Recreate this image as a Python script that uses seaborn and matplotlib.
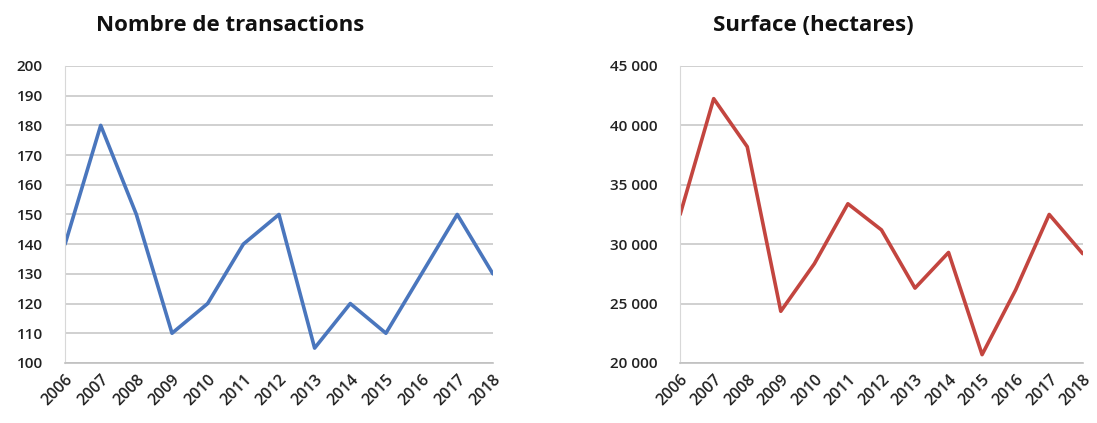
import matplotlib
matplotlib.use('Agg')
import matplotlib.pyplot as plt
import matplotlib.ticker as mticker
import seaborn as sns
import pandas as pd

# values
years = [2006, 2007, 2008, 2009, 2010, 2011, 2012, 2013, 2014, 2015, 2016, 2017, 2018]
transactions = [140, 180, 150, 110, 120, 140, 150, 105, 120, 110, 130, 150, 130]
surface = [32500, 42250, 38200, 24350, 28350, 33400, 31200, 26300, 29300, 20700, 26150, 32500, 29200]

df = pd.DataFrame({'annee': years, 'transactions': transactions, 'surface': surface})

sns.set_style('white')
plt.rcParams['font.family'] = ['Open Sans', 'DejaVu Sans']

fig = plt.figure(figsize=(10.97, 4.23), dpi=100)
ax1 = fig.add_axes([0.0593, 0.142, 0.390, 0.702])
ax2 = fig.add_axes([0.620, 0.142, 0.367, 0.702])


def style_axis(ax, ylim, ystep):
    ax.set_xlim(years[0], years[-1])
    ax.set_ylim(*ylim)
    ax.yaxis.set_major_locator(mticker.MultipleLocator(ystep))
    ax.set_xticks(years)
    ax.set_xticklabels([str(y) for y in years], rotation=45, ha='right',
                       rotation_mode='anchor', fontsize=11.5, fontweight='semibold',
                       color='#222222')
    ax.tick_params(axis='y', labelsize=11, labelcolor='#222222', length=0, pad=16)
    ax.tick_params(axis='x', length=4, width=1, color='#bbbbbb', direction='out', pad=2)
    ax.grid(axis='y', color='#c8c8c8', linewidth=1.2)
    ax.set_axisbelow(True)
    for s in ['top', 'right']:
        ax.spines[s].set_visible(False)
    ax.spines['left'].set_color('#d8d8d8')
    ax.spines['bottom'].set_color('#c0c0c0')
    ax.spines['bottom'].set_linewidth(1.2)
    ax.set_xlabel('')
    ax.set_ylabel('')


sns.lineplot(data=df, x='annee', y='transactions', ax=ax1, color='#4a76bd', linewidth=2.6)
style_axis(ax1, (100, 200), 10)

sns.lineplot(data=df, x='annee', y='surface', ax=ax2, color='#c3453f', linewidth=2.6)
style_axis(ax2, (20000, 45000), 5000)
ax2.yaxis.set_major_formatter(mticker.FuncFormatter(lambda v, p: f'{int(v):,}'.replace(',', ' ')))
for ax in (ax1, ax2):
    for lab in ax.get_yticklabels():
        lab.set_fontweight('semibold')

fig.text(0.21, 0.94, 'Nombre de transactions', ha='center', va='center',
         fontsize=16, fontweight='bold', color='#111111')
fig.text(0.741, 0.94, 'Surface (hectares)', ha='center', va='center',
         fontsize=16, fontweight='bold', color='#111111')

fig.savefig('out.png', dpi=100)
